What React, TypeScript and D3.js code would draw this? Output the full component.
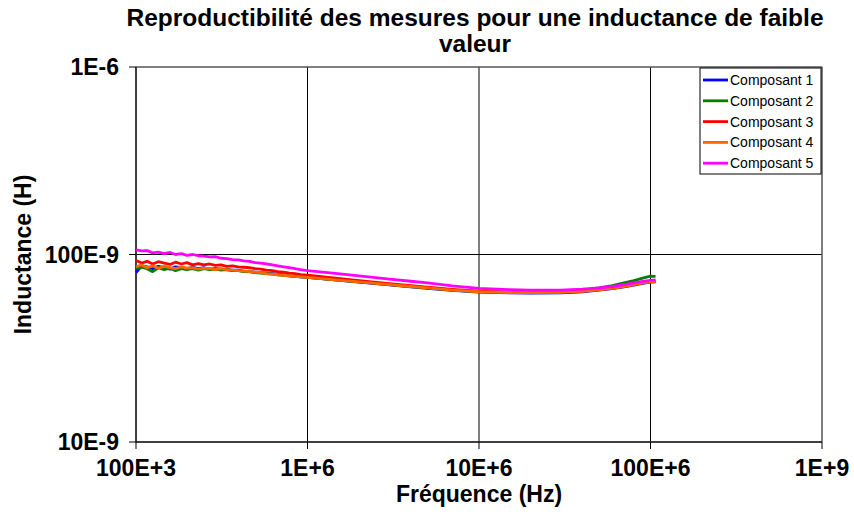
import React from "react";
import * as d3 from "d3";

const freqs = [
  1.0e5, 1.08e5, 1.16e5, 1.25e5, 1.35e5, 1.46e5, 1.58e5, 1.7e5, 1.84e5, 1.98e5,
  2.14e5, 2.31e5, 2.49e5, 2.69e5, 2.9e5, 3.13e5, 3.38e5, 3.65e5, 3.94e5, 4.25e5,
  4.59e5, 4.95e5, 5.34e5, 5.77e5, 6.23e5, 6.72e5, 7.25e5, 7.83e5, 8.45e5, 9.12e5,
  1.0e6, 1.5e6, 2e6, 3e6, 4e6, 5e6, 7e6, 1e7, 1.5e7, 2e7, 3e7, 4e7, 5e7, 6e7, 7e7,
  8e7, 9e7, 1e8, 1.07e8,
];

// values in nH
const comp1 = [
  80, 87, 86, 84, 86.5, 85, 83.5, 86, 85, 84, 85.5, 84, 85, 83.5, 84, 83.5, 83, 82.5, 82.5, 81.5,
  81, 80.5, 80, 79.5, 79, 78.5, 78, 77, 76.5, 76, 75.5,
  73, 71.3, 68.8, 67.2, 66, 64.3, 63, 62.4, 62.3, 62.5, 63.3, 64.5, 65.8, 67.2, 68.7, 70.2, 71.2, 71.5,
];
const comp2 = [
  84, 85.5, 84, 81, 85, 83, 84.5, 82, 84, 83, 84, 82.5, 84, 83, 83.5, 82.5, 83, 82, 82, 81,
  81, 80, 79.5, 79, 78.5, 78, 77.5, 77, 76.5, 76, 75.5,
  73, 71.5, 69, 67.5, 66.3, 64.6, 63.4, 62.9, 62.9, 63.4, 64.6, 66.3, 68.3, 70.5, 72.6, 74.8, 76.6, 76.4,
];
const comp3 = [
  93, 90, 92, 89, 91.5, 90, 88.5, 91, 89, 90.5, 88, 89.5, 88, 89, 87.5, 88, 86.5, 87, 86, 85.5,
  85, 84, 83.5, 82.5, 82, 81, 80.5, 79.5, 79, 78, 77.5,
  74.5, 72.5, 70, 68.3, 67, 65.2, 63.8, 63, 62.8, 63, 63.8, 65, 66.3, 67.8, 69.3, 70.8, 71.8, 72,
];
const comp4 = [
  86, 88, 85, 87, 84.5, 86.5, 85, 84, 86, 84.5, 85, 83.5, 84.5, 84, 83, 84, 83, 82.5, 82, 81.5,
  81, 80.5, 80, 79, 78.5, 78, 77.5, 77, 76.5, 76, 75.5,
  73, 71.5, 69, 67.5, 66.3, 64.6, 63.3, 62.7, 62.6, 62.8, 63.6, 64.8, 66, 67.5, 69, 70.5, 71.5, 71.8,
];
const comp5 = [
  106, 104.5, 105, 102, 103, 101, 102.5, 100, 101, 99, 100, 98.5, 98, 97, 97.5, 95.5, 95, 94, 93.5, 92.5,
  92, 90.5, 90, 89, 88, 87, 86, 85, 84, 83, 82,
  79, 77, 74, 72, 70.5, 68, 66, 65, 64.6, 64.6, 65.3, 66.3, 67.5, 69, 70.5, 71.8, 72.8, 73.2,
];

const seriesNames = ["Composant 1", "Composant 2", "Composant 3", "Composant 4", "Composant 5"];
const seriesValues = [comp1, comp2, comp3, comp4, comp5];
const seriesColors = ["#0000FF", "#008000", "#FF0000", "#FF6600", "#FF00FF"];

const xTicks = [1e5, 1e6, 1e7, 1e8, 1e9];
const xTickLabels = ["100E+3", "1E+6", "10E+6", "100E+6", "1E+9"];
const yTicks = [1e-8, 1e-7, 1e-6];
const yTickLabels = ["10E-9", "100E-9", "1E-6"];

const titleLines = ["Reproductibilité des mesures pour une inductance de faible", "valeur"];

export default function App() {
  const W = 854;
  const H = 517;
  const left = 136, right = 822, top = 67, bottom = 442;
  const x = d3.scaleLog().domain([1e5, 1e9]).range([left, right]);
  const y = d3.scaleLog().domain([1e-8, 1e-6]).range([bottom, top]);
  const line = d3
    .line<number>()
    .x((_, i) => x(freqs[i]))
    .y((v) => y(v * 1e-9));
  const font = "'Liberation Sans', Arial, sans-serif";
  const fs = 23;

  return (
    <svg
      width={W}
      height={H}
      style={{ position: "absolute", left: 0, top: 0, background: "#fff" }}
      fontFamily={font}
    >
      <rect x={0} y={0} width={W} height={H} fill="#fff" />
      {titleLines.map((t, i) => (
        <text key={i} x={475} y={26 + i * 25.5} textAnchor="middle" fontSize={24.5} fontWeight="bold" fill="#000">
          {t}
        </text>
      ))}
      {xTicks.map((t, i) => (
        <line key={"gx" + i} x1={x(t)} x2={x(t)} y1={top} y2={bottom} stroke="#000" strokeWidth={1} />
      ))}
      {yTicks.map((t, i) => (
        <line key={"gy" + i} x1={left} x2={right} y1={y(t)} y2={y(t)} stroke="#000" strokeWidth={1} />
      ))}
      <rect x={left} y={top} width={right - left} height={bottom - top} fill="none" stroke="#808080" strokeWidth={1} />
      <line x1={left} x2={left} y1={top} y2={bottom} stroke="#000" strokeWidth={1} />
      <line x1={left} x2={right} y1={bottom} y2={bottom} stroke="#000" strokeWidth={1} />
      {yTicks.map((t, i) => (
        <g key={"yt" + i}>
          <line x1={left - 7} x2={left} y1={y(t)} y2={y(t)} stroke="#000" />
          <text x={left - 17} y={y(t)} dy="0.35em" textAnchor="end" fontSize={fs} fontWeight="bold">
            {yTickLabels[i]}
          </text>
        </g>
      ))}
      {xTicks.map((t, i) => (
        <g key={"xt" + i}>
          <line x1={x(t)} x2={x(t)} y1={bottom} y2={bottom + 7} stroke="#000" />
          <text x={x(t)} y={476} textAnchor="middle" fontSize={fs} fontWeight="bold">
            {xTickLabels[i]}
          </text>
        </g>
      ))}
      <text x={479} y={502} textAnchor="middle" fontSize={fs} fontWeight="bold">
        Fréquence (Hz)
      </text>
      <text
        transform={`translate(31,${(top + bottom) / 2}) rotate(-90)`}
        textAnchor="middle"
        fontSize={fs}
        fontWeight="bold"
      >
        Inductance (H)
      </text>
      <g>
        {seriesValues.map((vals, i) => (
          <path
            key={"s" + i}
            d={line(vals) || ""}
            fill="none"
            stroke={seriesColors[i]}
            strokeWidth={2.8}
            strokeLinejoin="round"
          />
        ))}
      </g>
      <rect x={700} y={68} width={121} height={106} fill="#fff" stroke="#000" strokeWidth={1} />
      {seriesNames.map((n, i) => (
        <g key={"lg" + i}>
          <line x1={703} x2={728} y1={80 + i * 20.8} y2={80 + i * 20.8} stroke={seriesColors[i]} strokeWidth={2.8} />
          <text x={730} y={80 + i * 20.8} dy="0.35em" fontSize={14}>
            {n}
          </text>
        </g>
      ))}
    </svg>
  );
}
